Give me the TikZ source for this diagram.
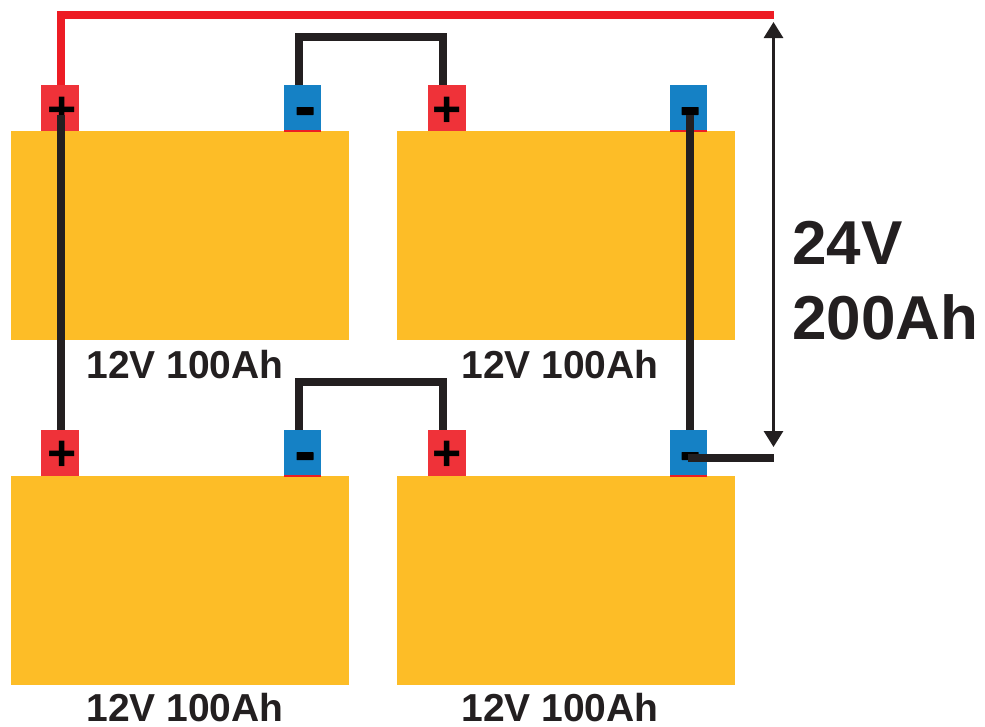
\documentclass[tikz,border=0pt]{standalone}
\usepackage{fontspec}
\setmainfont{Liberation Sans}
\usetikzlibrary{arrows.meta,calc}
\definecolor{batt}{HTML}{FDBD27}
\definecolor{posc}{HTML}{EF3239}
\definecolor{negc}{HTML}{1581C5}
\definecolor{wirered}{HTML}{ED1C24}
\definecolor{wireblk}{HTML}{231F20}
\tikzset{
  battbox/.style={fill=batt,draw=none,rectangle,inner sep=0,minimum width=338pt,minimum height=209pt},
  posterm/.style={fill=posc,draw=none,rectangle,inner sep=0,minimum width=38pt,minimum height=46pt},
  negterm/.style={fill=negc,draw=none,rectangle,inner sep=0,minimum width=37pt,minimum height=46pt},
  signplus/.style={inner sep=0,font=\bfseries\fontsize{50pt}{50pt}\selectfont,text=black},
  signminus/.style={fill=black,inner sep=0,minimum width=17pt,minimum height=8pt,rounded corners=0.5pt},
  wire/.style={draw=wireblk,line width=8pt,line cap=butt,line join=miter},
  redwire/.style={draw=wirered,line width=8pt,line join=miter},
  dimline/.style={draw=wireblk,line width=3pt,{Triangle[length=16pt,width=19pt]}-{Triangle[length=16pt,width=19pt]}},
  battlabel/.style={inner sep=0,anchor=base,text=wireblk,font=\bfseries\fontsize{39pt}{39pt}\selectfont},
  biglabel/.style={inner sep=0,anchor=base west,text=wireblk,font=\bfseries\fontsize{62pt}{62pt}\selectfont}
}
\begin{document}
\begin{tikzpicture}[x=1pt,y=-1pt]
\useasboundingbox (0,0) rectangle (985,726);
% terminals
\node[posterm] (p1) at (60,108) {};
\node[negterm] (n1) at (302.5,108) {};
\node[posterm] (p2) at (446.5,108) {};
\node[negterm] (n2) at (688.5,108) {};
\node[posterm] (p3) at (60,453) {};
\node[negterm] (n3) at (302.5,453) {};
\node[posterm] (p4) at (446.5,453) {};
\node[negterm] (n4) at (688.5,453) {};
% batteries
\node[battbox] (b1) at (180,235.5) {};
\node[battbox] (b2) at (566,235.5) {};
\node[battbox] (b3) at (180,580.5) {};
\node[battbox] (b4) at (566,580.5) {};
% red slivers under negative terminals
\foreach \t in {n1,n2,n3,n4}{\fill[wirered] ($(\t.south west)+(0,-1.5)$) rectangle ($(\t.south east)+(0,0.5)$);}
% signs
\node[signplus] (sp1) at (61.7,111.5) {+};
\node[signplus] (sp2) at (447.5,111.5) {+};
\node[signplus] (sp3) at (61.7,456) {+};
\node[signplus] (sp4) at (447.5,456) {+};
\node[signminus] (sn1) at (305,111) {};
\node[signminus] (sn2) at (690,111) {};
\node[signminus] (sn3) at (305,456) {};
\node[signminus] (sn4) at (690,456) {};
% free ends
\coordinate (redend) at (774,15);
\coordinate (blackend) at (774,458);
\coordinate (arrtop) at (773.5,22);
\coordinate (arrbot) at (773.5,447);
% wires
\draw[redwire] ($(p1.north)+(1,0)$) |- (redend);
\draw[wire] ($(n1.north)+(-3.5,0)$) -- ++(0,-48) -| ($(p2.north)+(-3.5,0)$);
\draw[wire] ($(n3.north)+(-3.5,0)$) -- ++(0,-48) -| ($(p4.north)+(-3.5,0)$);
\draw[wire] ($(p1.center)+(1,7)$) -- ($(p3.north)+(1,0)$);
\draw[wire] (sn2.south) -- (sn2.south |- n4.north);
\draw[wire] ($(sn4.center)+(-2,2)$) -- (blackend);
% dimension
\draw[dimline] (arrtop) -- (arrbot);
% labels
\node[battlabel] (l1) at (185,378) {12V 100Ah};
\node[battlabel] (l2) at (560,378) {12V 100Ah};
\node[battlabel] (l3) at (185,721.5) {12V 100Ah};
\node[battlabel] (l4) at (560,721.5) {12V 100Ah};
\node[biglabel] (v1) at (792,264) {24V};
\node[biglabel] (v2) at (792,339) {200Ah};
\end{tikzpicture}
\end{document}
